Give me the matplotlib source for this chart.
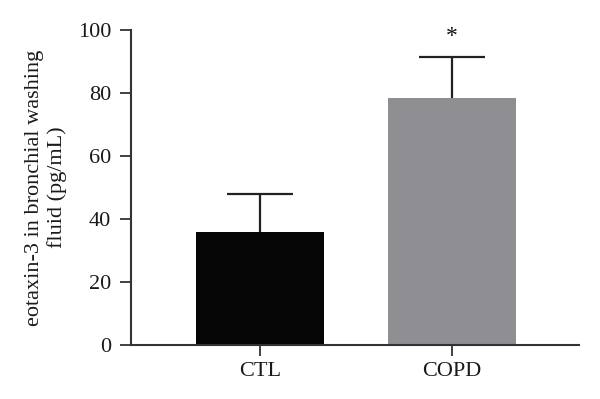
import matplotlib
matplotlib.use("Agg")
import matplotlib.pyplot as plt

groups = ["CTL", "COPD"]
means = [36.0, 78.5]
errors = [12.0, 13.0]
colors = ["#050505", "#8e8e93"]
star_y = 98

plt.rcParams["font.family"] = ["Liberation Serif", "DejaVu Serif"]

fig = plt.figure(figsize=(6, 3.99), dpi=100)
ax = fig.add_axes([0.218, 0.1353, 0.747, 0.7895])

x = list(range(len(groups)))
ax.bar(x, means, width=0.667, color=colors, zorder=2)
eb = ax.errorbar(x, means, yerr=[[0, 0], errors], fmt="none", ecolor="#222222",
                 elinewidth=1.6, capsize=24, capthick=1.6, zorder=1)
# only the upper half is drawn, so hide the cap at the bar top
eb[1][0].set_visible(False)
ax.text(x[1], star_y, "*", ha="center", va="center", fontsize=17, color="#111111")

ax.set_xlim(-0.672, 1.661)
ax.set_ylim(0, 100)
ax.set_yticks([0, 20, 40, 60, 80, 100])
ax.set_xticks(x)
ax.set_xticklabels(groups)
ax.set_ylabel("eotaxin-3 in bronchial washing\nfluid (pg/mL)", fontsize=16, labelpad=8,
              color="#1a1a1a")

for s in ["top", "right"]:
    ax.spines[s].set_visible(False)
for s in ["left", "bottom"]:
    ax.spines[s].set_linewidth(1.5)
    ax.spines[s].set_color("#333333")
ax.tick_params(axis="both", length=8, width=1.3, color="#333333", labelsize=16,
               labelcolor="#1a1a1a")
ax.tick_params(axis="x", pad=4)
ax.tick_params(axis="y", pad=6)

fig.savefig("out.png", dpi=100)
